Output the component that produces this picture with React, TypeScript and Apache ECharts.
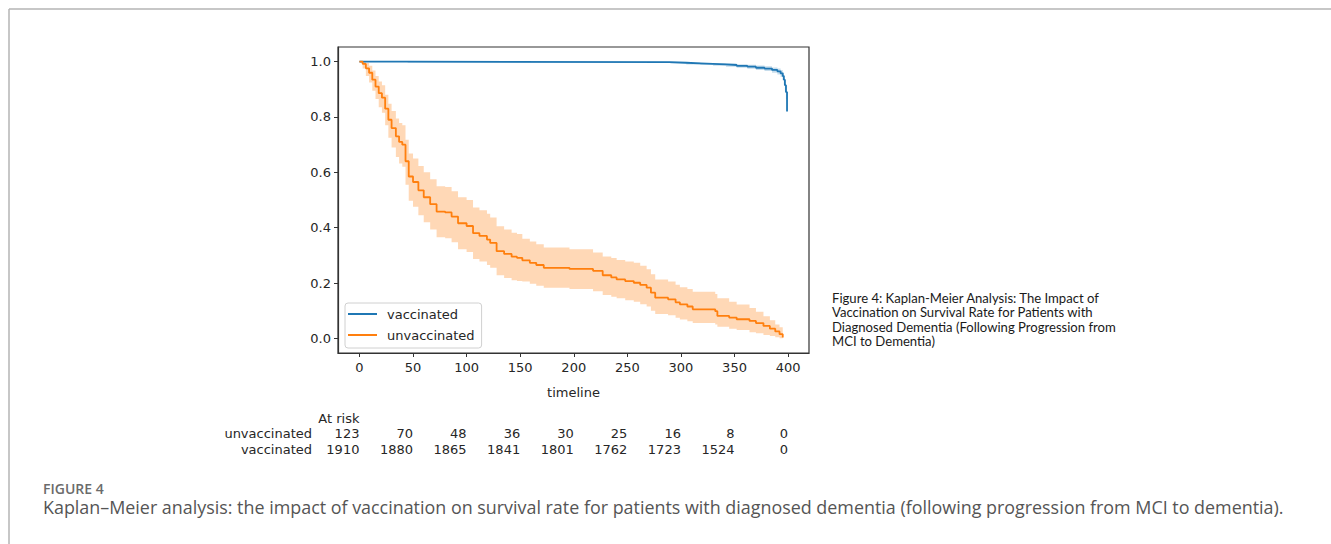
import React, { useEffect, useRef } from "react";
import * as echarts from "echarts";

// ---------- data ----------
const unvaxT = [0, 3, 6, 9, 12, 15, 18, 21, 24, 27, 30, 34, 37, 40, 43, 46, 50, 55, 60, 66, 72, 80, 86, 92, 100, 106, 112, 119, 122, 128, 135, 142, 147, 152, 159, 165, 172, 196, 218, 227, 235, 240, 248, 256, 262, 268, 272, 276, 288, 295, 299, 306, 311, 332, 334, 345, 352, 364, 370, 377, 383, 388, 392, 395];
const unvaxS = [1.0, 0.992, 0.976, 0.96, 0.935, 0.91, 0.886, 0.87, 0.83, 0.79, 0.76, 0.73, 0.71, 0.70, 0.64, 0.585, 0.565, 0.535, 0.51, 0.485, 0.458, 0.455, 0.44, 0.416, 0.406, 0.38, 0.37, 0.357, 0.345, 0.315, 0.305, 0.295, 0.291, 0.282, 0.273, 0.265, 0.255, 0.251, 0.244, 0.228, 0.22, 0.213, 0.207, 0.201, 0.193, 0.183, 0.165, 0.147, 0.141, 0.13, 0.123, 0.115, 0.105, 0.098, 0.081, 0.075, 0.069, 0.063, 0.055, 0.045, 0.035, 0.025, 0.015, 0.003];
const unvaxLo = [1.0, 0.975, 0.948, 0.925, 0.895, 0.865, 0.835, 0.815, 0.77, 0.725, 0.69, 0.655, 0.632, 0.62, 0.555, 0.497, 0.476, 0.445, 0.42, 0.393, 0.365, 0.362, 0.347, 0.322, 0.312, 0.287, 0.278, 0.265, 0.255, 0.228, 0.218, 0.21, 0.207, 0.205, 0.197, 0.19, 0.183, 0.178, 0.17, 0.157, 0.15, 0.145, 0.138, 0.132, 0.123, 0.115, 0.1, 0.088, 0.083, 0.074, 0.068, 0.062, 0.055, 0.05, 0.042, 0.035, 0.03, 0.022, 0.018, 0.012, 0.008, 0.004, 0.0, 0.0];
const unvaxHi = [1.0, 1.0, 0.995, 0.985, 0.968, 0.948, 0.928, 0.915, 0.88, 0.848, 0.822, 0.795, 0.778, 0.77, 0.718, 0.668, 0.65, 0.623, 0.6, 0.575, 0.55, 0.547, 0.532, 0.51, 0.5, 0.473, 0.463, 0.45, 0.437, 0.405, 0.393, 0.382, 0.377, 0.36, 0.35, 0.34, 0.328, 0.322, 0.31, 0.296, 0.29, 0.283, 0.278, 0.273, 0.262, 0.25, 0.232, 0.213, 0.205, 0.194, 0.185, 0.178, 0.168, 0.16, 0.145, 0.132, 0.122, 0.11, 0.096, 0.08, 0.065, 0.05, 0.04, 0.03];

const vaxT = [0, 45, 290, 305, 318, 330, 342, 352, 362, 370, 378, 385, 390, 393, 395, 396, 397, 398, 399];
const vaxS = [1.0, 0.998, 0.996, 0.994, 0.992, 0.99, 0.988, 0.985, 0.982, 0.978, 0.975, 0.97, 0.965, 0.958, 0.948, 0.935, 0.915, 0.89, 0.82];
const vaxLo = [1.0, 0.996, 0.993, 0.99, 0.988, 0.985, 0.982, 0.978, 0.974, 0.97, 0.966, 0.96, 0.954, 0.945, 0.933, 0.917, 0.895, 0.865, 0.78];
const vaxHi = [1.0, 1.0, 0.998, 0.997, 0.995, 0.994, 0.993, 0.991, 0.989, 0.986, 0.983, 0.979, 0.975, 0.97, 0.962, 0.951, 0.934, 0.913, 0.86];

const xTicks = [0, 50, 100, 150, 200, 250, 300, 350, 400];
const yTicks = [0, 0.2, 0.4, 0.6, 0.8, 1.0];
const atRiskUnvax = [123, 70, 48, 36, 30, 25, 16, 8, 0];
const atRiskVax = [1910, 1880, 1865, 1841, 1801, 1762, 1723, 1524, 0];

const figText = [
  "Figure 4: Kaplan-Meier Analysis: The Impact of",
  "Vaccination on Survival Rate for Patients with",
  "Diagnosed Dementia (Following Progression from",
  "MCI to Dementia)",
];
const captionLabel = "FIGURE 4";
const captionText =
  "Kaplan\u2013Meier analysis: the impact of vaccination on survival rate for patients with diagnosed dementia (following progression from MCI to dementia).";

const BLUE = "#1f77b4";
const ORANGE = "#ff7f0e";
const MPL = "DejaVu Sans";

const pairs = (t: number[], v: number[]) => t.map((x, i) => [x, v[i]]);
const triples = (t: number[], lo: number[], hi: number[]) => t.map((x, i) => [x, lo[i], hi[i]]);

// custom series drawing a step-shaped confidence band as one polygon
function bandSeries(name: string, t: number[], lo: number[], hi: number[], fill: string) {
  return {
    type: "custom",
    name,
    silent: true,
    clip: true,
    coordinateSystem: "cartesian2d",
    encode: { x: 0, y: [1, 2] },
    data: triples(t, lo, hi),
    renderItem: (params: any, api: any) => {
      if (params.dataIndex !== 0) return null;
      const upper: number[][] = [];
      const lower: number[][] = [];
      for (let i = 0; i < t.length; i++) {
        const tNext = i + 1 < t.length ? t[i + 1] : t[i];
        upper.push(api.coord([t[i], hi[i]]));
        upper.push(api.coord([tNext, hi[i]]));
        lower.push(api.coord([t[i], lo[i]]));
        lower.push(api.coord([tNext, lo[i]]));
      }
      const points = upper.concat(lower.reverse());
      return { type: "polygon", shape: { points }, style: { fill, stroke: "none" } };
    },
  };
}

export default function App() {
  const ref = useRef<HTMLDivElement>(null);
  useEffect(() => {
    if (!ref.current) return;
    const chart = echarts.init(ref.current, undefined, { renderer: "svg" });
    chart.setOption({
      animation: false,
      grid: { left: 338, right: 522, top: 47, bottom: 191, show: true, borderColor: "#333", borderWidth: 1.2, backgroundColor: "transparent" },
      xAxis: {
        type: "value",
        min: -20,
        max: 419.5,
        name: "timeline",
        nameLocation: "middle",
        nameGap: 33,
        nameTextStyle: { fontFamily: MPL, fontSize: 13, color: "#262626" },
        axisLine: { show: true, onZero: false, lineStyle: { color: "#333", width: 1.2 } },
        splitLine: { show: false },
        axisTick: { show: true, inside: false, length: 4, lineStyle: { color: "#333" }, customValues: xTicks },
        axisLabel: { customValues: xTicks, margin: 8, fontFamily: MPL, fontSize: 13, color: "#262626" },
      },
      yAxis: {
        type: "value",
        min: -0.053,
        max: 1.053,
        axisLine: { show: true, onZero: false, lineStyle: { color: "#333", width: 1.2 } },
        splitLine: { show: false },
        axisTick: { show: true, inside: false, length: 4, lineStyle: { color: "#333" }, customValues: yTicks },
        axisLabel: { customValues: yTicks, margin: 7, fontFamily: MPL, fontSize: 13, color: "#262626", formatter: (v: number) => v.toFixed(1) },
      },
      legend: {
        data: ["vaccinated", "unvaccinated"],
        orient: "vertical",
        left: 345,
        top: 303,
        icon: "rect",
        itemWidth: 29,
        itemHeight: 2,
        itemGap: 7,
        padding: [4, 7, 6, 3],
        borderColor: "#d0d0d0",
        borderWidth: 1,
        borderRadius: 3,
        backgroundColor: "rgba(255,255,255,0.8)",
        textStyle: { fontFamily: MPL, fontSize: 13, color: "#262626", lineHeight: 14, padding: [0, 0, 0, 5] },
      },
      series: [
        bandSeries("vaxBand", vaxT, vaxLo, vaxHi, "rgba(31,119,180,0.25)"),
        bandSeries("unvaxBand", unvaxT, unvaxLo, unvaxHi, "rgba(255,127,14,0.3)"),
        { type: "line", name: "vaccinated", step: "end", symbol: "none", color: BLUE, lineStyle: { color: BLUE, width: 1.8 }, data: pairs(vaxT, vaxS) },
        { type: "line", name: "unvaccinated", step: "end", symbol: "none", color: ORANGE, lineStyle: { color: ORANGE, width: 1.8 }, data: pairs(unvaxT, unvaxS) },
      ],
    });

    const tickX = xTicks.map((t) => chart.convertToPixel({ xAxisIndex: 0 }, t) as number);
    const txt = (text: string, x: number, y: number, opts: any = {}) => ({
      type: "text",
      x,
      y,
      silent: true,
      style: {
        text,
        fill: opts.fill || "#262626",
        fontFamily: opts.fontFamily || MPL,
        fontSize: opts.fontSize || 13,
        fontWeight: opts.fontWeight || "normal",
        textAlign: opts.align || "right",
        textVerticalAlign: "middle",
      },
    });
    const graphics: any[] = [
      { type: "line", silent: true, shape: { x1: 9, y1: 9, x2: 1331, y2: 9 }, style: { stroke: "#b5b5b5", lineWidth: 1.5 } },
      { type: "line", silent: true, shape: { x1: 9, y1: 9, x2: 9, y2: 544 }, style: { stroke: "#b5b5b5", lineWidth: 1.5 } },
      txt("At risk", tickX[0], 418),
      txt("unvaccinated", 312, 433.5),
      txt("vaccinated", 312, 449.5),
    ];
    tickX.forEach((x, i) => {
      graphics.push(txt(String(atRiskUnvax[i]), x, 433.5));
      graphics.push(txt(String(atRiskVax[i]), x, 449.5));
    });
    figText.forEach((line, i) => {
      graphics.push(txt(line, 832, 297.5 + i * 14.5, { align: "left", fontFamily: "Lato", fontSize: 13.1, fill: "#1a1a1a" }));
    });
    graphics.push(txt(captionLabel, 43, 488, { align: "left", fontFamily: "Open Sans", fontSize: 14, fontWeight: 600, fill: "#6b6b6b" }));
    graphics.push(txt(captionText, 43, 507, { align: "left", fontFamily: "Open Sans", fontSize: 17.9, fill: "#555" }));
    chart.setOption({ graphic: graphics });

    return () => chart.dispose();
  }, []);
  return <div ref={ref} style={{ position: "fixed", left: 0, top: 0, width: 1331, height: 544, background: "#fff" }} />;
}
